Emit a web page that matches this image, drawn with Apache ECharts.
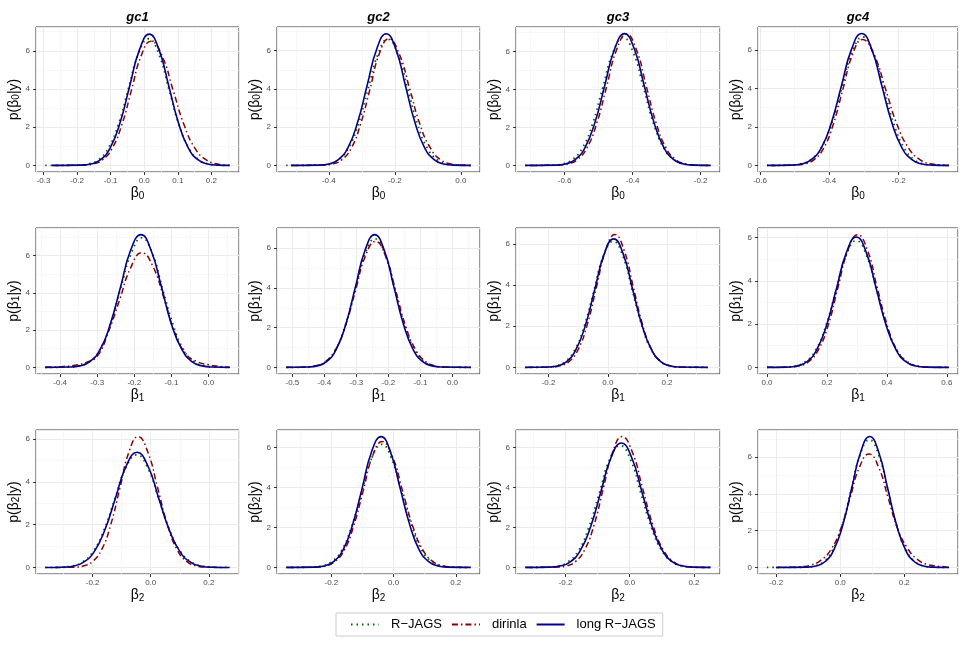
<!DOCTYPE html>
<html>

<head>
    <meta charset="utf-8">
    <title>Posterior densities</title>
    <script src="https://cdn.jsdelivr.net/npm/echarts@6/dist/echarts.min.js"></script>
    <style>
        body { margin: 0; background: #fff; }
        #main { width: 969px; height: 646px; }
    </style>
</head>

<body>
    <div id="main"></div>
    <script type="text/javascript">
        // facet labels, parameter subscripts and legend names
        var groups = ['gc1', 'gc2', 'gc3', 'gc4'];
        var paramIndex = ['0', '1', '2'];
        var methods = ['R\u2212JAGS', 'dirinla', 'long R\u2212JAGS'];

        // axis limits of each panel, row by row (beta0, beta1, beta2), gc1..gc4
        var xLimits = [
            [-0.3225, 0.2825], [-0.557, 0.058], [-0.743, -0.143], [-0.606, -0.029],
            [-0.465, 0.082], [-0.548, 0.086], [-0.31, 0.379], [-0.03, 0.637],
            [-0.395, 0.304], [-0.375, 0.278], [-0.354, 0.281], [-0.257, 0.368]
        ];
        var yLimits = [
            [-0.345, 7.245], [-0.345, 7.24], [-0.347, 7.28], [-0.343, 7.2],
            [-0.356, 7.476], [-0.334, 7.014], [-0.323, 6.78], [-0.307, 6.447],
            [-0.306, 6.42], [-0.33, 6.88], [-0.33, 6.88], [-0.356, 7.476]
        ];
        // roughly how many major x ticks (gives 0.1 or 0.2 steps)
        var xSplit = [5, 3, 3, 3, 5, 5, 3, 3, 3, 3, 3, 3];

        // densities: [beta, p(beta|y)]
        // beta0
        var gc1_b0_rjags = [[-0.295, 0], [-0.197, 0.015], [-0.167, 0.074], [-0.137, 0.29], [-0.107, 0.90], [-0.077, 2.15], [-0.047, 4.02], [-0.017, 5.85], [0.013, 6.63], [0.043, 5.85], [0.073, 4.02], [0.103, 2.15], [0.133, 0.90], [0.163, 0.29], [0.193, 0.074], [0.223, 0.015], [0.255, 0]];
        var gc1_b0_dirinla = [[-0.27, 0], [-0.183, 0.014], [-0.154, 0.072], [-0.125, 0.285], [-0.096, 0.88], [-0.067, 2.11], [-0.038, 3.94], [-0.009, 5.74], [0.02, 6.5], [0.053, 5.74], [0.086, 3.94], [0.119, 2.11], [0.152, 0.88], [0.185, 0.285], [0.218, 0.072], [0.25, 0.01]];
        var gc1_b0_long = [[-0.275, 0], [-0.188, 0.015], [-0.159, 0.076], [-0.13, 0.30], [-0.101, 0.93], [-0.072, 2.23], [-0.043, 4.17], [-0.014, 6.06], [0.015, 6.87], [0.044, 6.06], [0.073, 4.17], [0.102, 2.23], [0.131, 0.93], [0.16, 0.30], [0.189, 0.076], [0.218, 0.015], [0.255, 0]];

        var gc2_b0_rjags = [[-0.529, 0], [-0.431, 0.015], [-0.401, 0.073], [-0.371, 0.29], [-0.341, 0.89], [-0.311, 2.14], [-0.281, 4.0], [-0.251, 5.82], [-0.221, 6.6], [-0.191, 5.82], [-0.161, 4.0], [-0.131, 2.14], [-0.101, 0.89], [-0.071, 0.29], [-0.041, 0.073], [-0.011, 0.015], [0.03, 0]];
        var gc2_b0_dirinla = [[-0.51, 0], [-0.418, 0.015], [-0.389, 0.073], [-0.361, 0.29], [-0.332, 0.90], [-0.304, 2.15], [-0.275, 4.01], [-0.247, 5.84], [-0.218, 6.62], [-0.187, 5.84], [-0.155, 4.01], [-0.124, 2.15], [-0.092, 0.90], [-0.061, 0.29], [-0.029, 0.073], [0.003, 0.015], [0.03, 0]];
        var gc2_b0_long = [[-0.515, 0], [-0.429, 0.015], [-0.4, 0.076], [-0.371, 0.30], [-0.342, 0.93], [-0.313, 2.24], [-0.284, 4.18], [-0.255, 6.08], [-0.226, 6.89], [-0.197, 6.08], [-0.168, 4.18], [-0.139, 2.24], [-0.11, 0.93], [-0.081, 0.30], [-0.052, 0.076], [-0.023, 0.015], [0.03, 0]];

        var gc3_b0_rjags = [[-0.716, 0], [-0.638, 0.015], [-0.608, 0.075], [-0.578, 0.295], [-0.548, 0.91], [-0.518, 2.18], [-0.488, 4.08], [-0.458, 5.93], [-0.428, 6.72], [-0.398, 5.93], [-0.368, 4.08], [-0.338, 2.18], [-0.308, 0.91], [-0.278, 0.295], [-0.248, 0.075], [-0.218, 0.015], [-0.17, 0]];
        var gc3_b0_dirinla = [[-0.70, 0], [-0.621, 0.015], [-0.592, 0.077], [-0.563, 0.30], [-0.534, 0.93], [-0.505, 2.24], [-0.476, 4.18], [-0.447, 6.09], [-0.418, 6.9], [-0.389, 6.09], [-0.36, 4.18], [-0.331, 2.24], [-0.302, 0.93], [-0.273, 0.30], [-0.244, 0.077], [-0.215, 0.015], [-0.18, 0]];
        var gc3_b0_long = [[-0.716, 0], [-0.627, 0.015], [-0.598, 0.077], [-0.569, 0.30], [-0.54, 0.94], [-0.511, 2.25], [-0.482, 4.20], [-0.453, 6.12], [-0.424, 6.93], [-0.395, 6.12], [-0.366, 4.20], [-0.337, 2.25], [-0.308, 0.94], [-0.279, 0.30], [-0.25, 0.077], [-0.221, 0.015], [-0.17, 0]];

        var gc4_b0_rjags = [[-0.58, 0], [-0.514, 0.015], [-0.484, 0.074], [-0.454, 0.29], [-0.424, 0.90], [-0.394, 2.17], [-0.364, 4.05], [-0.334, 5.9], [-0.304, 6.68], [-0.274, 5.9], [-0.244, 4.05], [-0.214, 2.17], [-0.184, 0.90], [-0.154, 0.29], [-0.124, 0.074], [-0.094, 0.015], [-0.055, 0]];
        var gc4_b0_dirinla = [[-0.57, 0], [-0.501, 0.014], [-0.473, 0.073], [-0.445, 0.29], [-0.417, 0.89], [-0.389, 2.13], [-0.361, 3.97], [-0.333, 5.78], [-0.305, 6.55], [-0.272, 5.78], [-0.238, 3.97], [-0.205, 2.13], [-0.171, 0.89], [-0.138, 0.29], [-0.104, 0.073], [-0.071, 0.014], [-0.057, 0]];
        var gc4_b0_long = [[-0.58, 0], [-0.51, 0.015], [-0.481, 0.076], [-0.452, 0.30], [-0.423, 0.93], [-0.394, 2.23], [-0.365, 4.16], [-0.336, 6.05], [-0.307, 6.86], [-0.278, 6.05], [-0.249, 4.16], [-0.22, 2.23], [-0.191, 0.93], [-0.162, 0.30], [-0.133, 0.076], [-0.104, 0.015], [-0.055, 0]];

        // beta1
        var gc1_b1_rjags = [[-0.44, 0], [-0.378, 0.015], [-0.35, 0.077], [-0.321, 0.305], [-0.293, 0.94], [-0.265, 2.26], [-0.237, 4.22], [-0.208, 6.13], [-0.18, 6.95], [-0.152, 6.13], [-0.124, 4.22], [-0.095, 2.26], [-0.067, 0.94], [-0.039, 0.305], [-0.01, 0.077], [0.018, 0.015], [0.057, 0]];
        var gc1_b1_dirinla = [[-0.44, 0], [-0.42, 0.02], [-0.39, 0.05], [-0.36, 0.11], [-0.33, 0.27], [-0.30, 0.6], [-0.27, 1.9], [-0.24, 3.6], [-0.21, 5.34], [-0.18, 6.15], [-0.15, 5.42], [-0.12, 3.7], [-0.09, 1.8], [-0.06, 0.7], [-0.03, 0.3], [0.0, 0.14], [0.03, 0.05], [0.057, 0]];
        var gc1_b1_long = [[-0.44, 0], [-0.375, 0.016], [-0.347, 0.079], [-0.32, 0.31], [-0.292, 0.96], [-0.265, 2.31], [-0.237, 4.32], [-0.21, 6.28], [-0.182, 7.12], [-0.155, 6.28], [-0.127, 4.32], [-0.1, 2.31], [-0.072, 0.96], [-0.045, 0.31], [-0.017, 0.079], [0.011, 0.016], [0.057, 0]];

        var gc2_b1_rjags = [[-0.519, 0], [-0.459, 0.014], [-0.428, 0.072], [-0.397, 0.28], [-0.366, 0.88], [-0.335, 2.10], [-0.304, 3.92], [-0.273, 5.71], [-0.242, 6.47], [-0.211, 5.71], [-0.18, 3.92], [-0.149, 2.10], [-0.118, 0.88], [-0.087, 0.28], [-0.056, 0.072], [-0.025, 0.014], [0.057, 0]];
        var gc2_b1_dirinla = [[-0.519, 0], [-0.461, 0.014], [-0.429, 0.07], [-0.398, 0.28], [-0.366, 0.86], [-0.335, 2.06], [-0.303, 3.85], [-0.272, 5.6], [-0.24, 6.34], [-0.209, 5.6], [-0.177, 3.85], [-0.146, 2.06], [-0.114, 0.86], [-0.083, 0.28], [-0.051, 0.07], [-0.02, 0.014], [0.057, 0]];
        var gc2_b1_long = [[-0.519, 0], [-0.453, 0.015], [-0.423, 0.074], [-0.393, 0.29], [-0.363, 0.90], [-0.333, 2.17], [-0.303, 4.05], [-0.273, 5.89], [-0.243, 6.68], [-0.213, 5.89], [-0.183, 4.05], [-0.153, 2.17], [-0.123, 0.90], [-0.093, 0.29], [-0.063, 0.074], [-0.033, 0.015], [0.057, 0]];

        var gc3_b1_rjags = [[-0.279, 0], [-0.21, 0.013], [-0.177, 0.068], [-0.145, 0.27], [-0.112, 0.83], [-0.08, 1.99], [-0.047, 3.72], [-0.015, 5.41], [0.018, 6.13], [0.051, 5.41], [0.083, 3.72], [0.116, 1.99], [0.148, 0.83], [0.181, 0.27], [0.213, 0.068], [0.246, 0.013], [0.348, 0]];
        var gc3_b1_dirinla = [[-0.27, 0], [-0.193, 0.014], [-0.162, 0.072], [-0.131, 0.28], [-0.1, 0.87], [-0.069, 2.10], [-0.038, 3.92], [-0.007, 5.70], [0.024, 6.46], [0.055, 5.70], [0.086, 3.92], [0.117, 2.10], [0.148, 0.87], [0.179, 0.28], [0.21, 0.072], [0.241, 0.014], [0.33, 0]];
        var gc3_b1_long = [[-0.279, 0], [-0.204, 0.014], [-0.172, 0.069], [-0.14, 0.27], [-0.108, 0.85], [-0.076, 2.03], [-0.044, 3.79], [-0.012, 5.52], [0.02, 6.25], [0.052, 5.52], [0.084, 3.79], [0.116, 2.03], [0.148, 0.85], [0.18, 0.27], [0.212, 0.069], [0.244, 0.014], [0.337, 0]];

        var gc4_b1_rjags = [[0.0, 0], [0.06, 0.013], [0.094, 0.065], [0.128, 0.26], [0.162, 0.79], [0.196, 1.90], [0.23, 3.55], [0.264, 5.17], [0.298, 5.86], [0.332, 5.17], [0.366, 3.55], [0.4, 1.90], [0.434, 0.79], [0.468, 0.26], [0.502, 0.065], [0.536, 0.013], [0.607, 0]];
        var gc4_b1_dirinla = [[0.0, 0], [0.075, 0.014], [0.107, 0.068], [0.14, 0.27], [0.172, 0.83], [0.205, 1.99], [0.237, 3.72], [0.27, 5.42], [0.302, 6.14], [0.335, 5.42], [0.367, 3.72], [0.4, 1.99], [0.432, 0.83], [0.465, 0.27], [0.497, 0.068], [0.53, 0.014], [0.6, 0]];
        var gc4_b1_long = [[0.0, 0], [0.067, 0.013], [0.1, 0.067], [0.133, 0.26], [0.166, 0.82], [0.199, 1.96], [0.232, 3.66], [0.265, 5.32], [0.298, 6.03], [0.331, 5.32], [0.364, 3.66], [0.397, 1.96], [0.43, 0.82], [0.463, 0.26], [0.496, 0.067], [0.529, 0.013], [0.607, 0]];

        // beta2
        var gc1_b2_rjags = [[-0.363, 0], [-0.314, 0.012], [-0.276, 0.058], [-0.238, 0.23], [-0.2, 0.71], [-0.162, 1.71], [-0.124, 3.19], [-0.086, 4.64], [-0.048, 5.26], [-0.01, 4.64], [0.028, 3.19], [0.066, 1.71], [0.104, 0.71], [0.142, 0.23], [0.18, 0.058], [0.218, 0.012], [0.272, 0]];
        var gc1_b2_dirinla = [[-0.33, 0], [-0.264, 0.013], [-0.232, 0.068], [-0.201, 0.27], [-0.169, 0.83], [-0.138, 1.98], [-0.106, 3.71], [-0.075, 5.39], [-0.043, 6.11], [-0.01, 5.39], [0.024, 3.71], [0.058, 1.98], [0.091, 0.83], [0.125, 0.27], [0.158, 0.068], [0.192, 0.013], [0.25, 0]];
        var gc1_b2_long = [[-0.363, 0], [-0.306, 0.012], [-0.269, 0.06], [-0.232, 0.24], [-0.195, 0.73], [-0.158, 1.75], [-0.121, 3.26], [-0.084, 4.75], [-0.047, 5.38], [-0.01, 4.75], [0.027, 3.26], [0.064, 1.75], [0.101, 0.73], [0.138, 0.24], [0.175, 0.06], [0.212, 0.012], [0.272, 0]];

        var gc2_b2_rjags = [[-0.345, 0], [-0.266, 0.014], [-0.233, 0.068], [-0.201, 0.27], [-0.168, 0.83], [-0.136, 2.0], [-0.103, 3.74], [-0.071, 5.44], [-0.038, 6.16], [-0.006, 5.44], [0.027, 3.74], [0.06, 2.0], [0.092, 0.83], [0.125, 0.27], [0.157, 0.068], [0.19, 0.014], [0.248, 0]];
        var gc2_b2_dirinla = [[-0.34, 0], [-0.251, 0.014], [-0.22, 0.07], [-0.19, 0.28], [-0.159, 0.85], [-0.129, 2.05], [-0.098, 3.82], [-0.068, 5.56], [-0.037, 6.3], [-0.004, 5.56], [0.029, 3.82], [0.062, 2.05], [0.095, 0.85], [0.128, 0.28], [0.161, 0.07], [0.194, 0.014], [0.245, 0]];
        var gc2_b2_long = [[-0.345, 0], [-0.254, 0.014], [-0.223, 0.073], [-0.193, 0.29], [-0.162, 0.89], [-0.132, 2.13], [-0.101, 3.97], [-0.071, 5.78], [-0.04, 6.55], [-0.01, 5.78], [0.021, 3.97], [0.052, 2.13], [0.082, 0.89], [0.113, 0.29], [0.143, 0.073], [0.174, 0.014], [0.248, 0]];

        var gc3_b2_rjags = [[-0.325, 0], [-0.258, 0.013], [-0.225, 0.068], [-0.193, 0.27], [-0.16, 0.83], [-0.128, 1.98], [-0.095, 3.70], [-0.063, 5.38], [-0.03, 6.1], [0.003, 5.38], [0.035, 3.70], [0.068, 1.98], [0.1, 0.83], [0.133, 0.27], [0.165, 0.068], [0.198, 0.013], [0.252, 0]];
        var gc3_b2_dirinla = [[-0.32, 0], [-0.227, 0.014], [-0.198, 0.073], [-0.169, 0.29], [-0.14, 0.89], [-0.111, 2.13], [-0.082, 3.97], [-0.053, 5.78], [-0.024, 6.55], [0.008, 5.78], [0.04, 3.97], [0.072, 2.13], [0.104, 0.89], [0.136, 0.29], [0.168, 0.073], [0.2, 0.014], [0.25, 0]];
        var gc3_b2_long = [[-0.325, 0], [-0.25, 0.014], [-0.218, 0.069], [-0.186, 0.27], [-0.154, 0.84], [-0.122, 2.02], [-0.09, 3.78], [-0.058, 5.50], [-0.026, 6.23], [0.006, 5.50], [0.038, 3.78], [0.07, 2.02], [0.102, 0.84], [0.134, 0.27], [0.166, 0.069], [0.198, 0.014], [0.252, 0]];

        var gc4_b2_rjags = [[-0.229, 0], [-0.11, 0.015], [-0.082, 0.077], [-0.053, 0.305], [-0.024, 0.94], [0.005, 2.25], [0.034, 4.21], [0.062, 6.12], [0.091, 6.94], [0.12, 6.12], [0.149, 4.21], [0.177, 2.25], [0.206, 0.94], [0.235, 0.305], [0.263, 0.077], [0.292, 0.015], [0.34, 0]];
        var gc4_b2_dirinla = [[-0.2, 0], [-0.18, 0.005], [-0.15, 0.01], [-0.12, 0.04], [-0.09, 0.14], [-0.06, 0.40], [-0.03, 0.95], [0.0, 2.02], [0.03, 3.74], [0.06, 5.45], [0.09, 6.17], [0.12, 5.45], [0.15, 3.76], [0.18, 2.08], [0.21, 1.05], [0.24, 0.45], [0.27, 0.18], [0.30, 0.08], [0.33, 0.03], [0.34, 0]];
        var gc4_b2_long = [[-0.201, 0], [-0.104, 0.016], [-0.076, 0.079], [-0.048, 0.31], [-0.02, 0.96], [0.008, 2.31], [0.036, 4.32], [0.064, 6.28], [0.092, 7.12], [0.12, 6.28], [0.148, 4.32], [0.176, 2.31], [0.204, 0.96], [0.232, 0.31], [0.26, 0.079], [0.288, 0.016], [0.34, 0]];

        var panels = [
            [gc1_b0_rjags, gc1_b0_dirinla, gc1_b0_long], [gc2_b0_rjags, gc2_b0_dirinla, gc2_b0_long],
            [gc3_b0_rjags, gc3_b0_dirinla, gc3_b0_long], [gc4_b0_rjags, gc4_b0_dirinla, gc4_b0_long],
            [gc1_b1_rjags, gc1_b1_dirinla, gc1_b1_long], [gc2_b1_rjags, gc2_b1_dirinla, gc2_b1_long],
            [gc3_b1_rjags, gc3_b1_dirinla, gc3_b1_long], [gc4_b1_rjags, gc4_b1_dirinla, gc4_b1_long],
            [gc1_b2_rjags, gc1_b2_dirinla, gc1_b2_long], [gc2_b2_rjags, gc2_b2_dirinla, gc2_b2_long],
            [gc3_b2_rjags, gc3_b2_dirinla, gc3_b2_long], [gc4_b2_rjags, gc4_b2_dirinla, gc4_b2_long]
        ];

        // panel boxes in pixels
        var colLeft = [36, 277, 516, 758];
        var colWidth = [203, 203, 204, 200];
        var rowTop = [27, 228, 430];
        var rowHeight = [145, 146, 144];

        var font = "'Liberation Sans', Arial, Helvetica, sans-serif";
        var lineStyles = [
            { color: '#006400', width: 1.8, type: [1.5, 4] },
            { color: '#8b0000', width: 1.5, type: [6, 3, 1.5, 3] },
            { color: '#00008b', width: 1.6, type: 'solid' }
        ];

        var nameRich = {
            t: { fontSize: 14, color: '#000', fontFamily: font, lineHeight: 16 },
            s: { fontSize: 10, color: '#000', fontFamily: font, lineHeight: 8, verticalAlign: 'bottom' }
        };

        var grids = [], xAxes = [], yAxes = [], series = [], graphics = [];

        for (var r = 0; r < 3; r++) {
            for (var c = 0; c < 4; c++) {
                var i = r * 4 + c;
                grids.push({
                    left: colLeft[c], top: rowTop[r], width: colWidth[c], height: rowHeight[r],
                    show: true, borderColor: '#333333', borderWidth: 1, backgroundColor: '#ffffff'
                });
                xAxes.push({
                    type: 'value', gridIndex: i, position: 'bottom',
                    min: xLimits[i][0], max: xLimits[i][1], splitNumber: xSplit[i],
                    name: '{t|\u03b2}{s|' + paramIndex[r] + '}',
                    nameLocation: 'middle', nameGap: 13,
                    nameTextStyle: { rich: nameRich },
                    axisLine: { show: false, onZero: false },
                    axisTick: { show: true, length: 3, lineStyle: { color: '#333333' } },
                    axisLabel: {
                        fontSize: 8, color: '#4d4d4d', fontFamily: font, margin: 5,
                        showMinLabel: false, showMaxLabel: false,
                        formatter: function (v) { return v.toFixed(1); }
                    },
                    splitLine: { show: true, lineStyle: { color: '#ebebeb', width: 1 } },
                    minorTick: { show: false, splitNumber: 2 },
                    minorSplitLine: { show: true, lineStyle: { color: '#f3f3f3', width: 0.7 } }
                });
                yAxes.push({
                    type: 'value', gridIndex: i, position: 'left',
                    min: yLimits[i][0], max: yLimits[i][1], splitNumber: 4,
                    name: '{t|p(\u03b2}{s|' + paramIndex[r] + '}{t||y)}',
                    nameLocation: 'middle', nameGap: 14,
                    nameTextStyle: { rich: nameRich },
                    axisLine: { show: false, onZero: false },
                    axisTick: { show: true, length: 3, lineStyle: { color: '#333333' } },
                    axisLabel: {
                        fontSize: 8, color: '#4d4d4d', fontFamily: font, margin: 6,
                        showMinLabel: false, showMaxLabel: false
                    },
                    splitLine: { show: true, lineStyle: { color: '#ebebeb', width: 1 } },
                    minorTick: { show: false, splitNumber: 2 },
                    minorSplitLine: { show: true, lineStyle: { color: '#f3f3f3', width: 0.7 } }
                });
                for (var k = 0; k < 3; k++) {
                    series.push({
                        type: 'line', name: methods[k],
                        xAxisIndex: i, yAxisIndex: i,
                        data: panels[i][k],
                        showSymbol: false, symbol: 'none',
                        smooth: 0.5,
                        lineStyle: lineStyles[k],
                        itemStyle: { color: lineStyles[k].color },
                        z: 2 + k
                    });
                }
            }
        }

        // facet strip titles
        for (var g = 0; g < 4; g++) {
            graphics.push({
                type: 'text',
                x: colLeft[g] + colWidth[g] / 2, y: 17,
                style: {
                    text: groups[g], fill: '#000',
                    font: 'italic bold 13px ' + font,
                    align: 'center', verticalAlign: 'middle',
                    textAlign: 'center', textVerticalAlign: 'middle'
                }
            });
        }

        var myChart = echarts.init(document.getElementById('main'));
        myChart.setOption({
            animation: false,
            backgroundColor: '#ffffff',
            grid: grids,
            xAxis: xAxes,
            yAxis: yAxes,
            series: series,
            graphic: graphics,
            legend: {
                data: methods,
                left: 336, top: 613,
                itemWidth: 28, itemHeight: 14, itemGap: 9,
                padding: [5, 7, 5, 14],
                borderColor: '#cccccc', borderWidth: 1,
                itemStyle: { opacity: 0 },
                textStyle: { fontSize: 13, color: '#000', fontFamily: font, padding: [0, 0, 0, 7] }
            }
        });
    </script>
</body>

</html>
